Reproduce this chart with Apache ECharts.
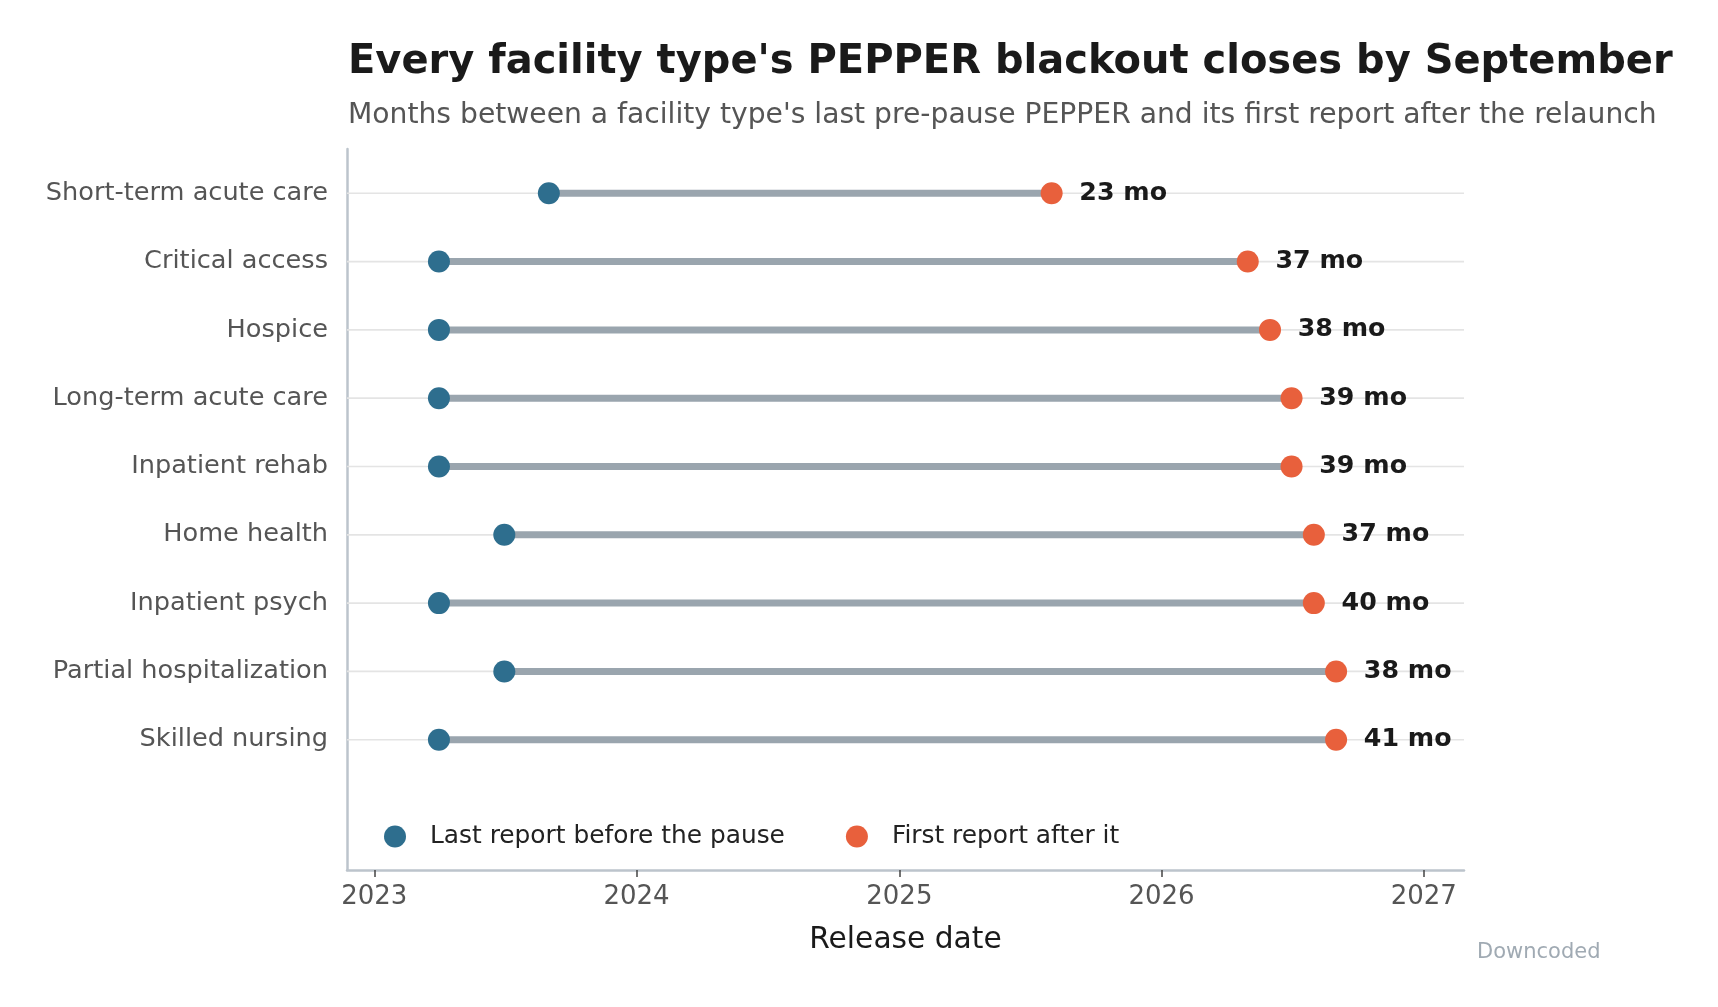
<!DOCTYPE html>
<html>
<head>
<meta charset="UTF-8">
<title>PEPPER blackout</title>
<script src="https://cdn.jsdelivr.net/npm/echarts@6/dist/echarts.min.js"></script>
<style>
body { margin: 0; padding: 0; background: #fff; }
#main { width: 1718px; height: 1007px; }
</style>
</head>
<body>
<div id="main"></div>
<script>
// facility types, top to bottom
var facilities = ['Short-term acute care', 'Critical access', 'Hospice', 'Long-term acute care',
    'Inpatient rehab', 'Home health', 'Inpatient psych', 'Partial hospitalization', 'Skilled nursing'];
// last PEPPER before the pause / first one after the relaunch (year, month)
var lastBefore = [[2023, 9], [2023, 4], [2023, 4], [2023, 4], [2023, 4], [2023, 7], [2023, 4], [2023, 7], [2023, 4]];
var firstAfter = [[2025, 8], [2026, 5], [2026, 6], [2026, 7], [2026, 7], [2026, 8], [2026, 8], [2026, 9], [2026, 9]];
var gapMonths = [23, 37, 38, 39, 39, 37, 40, 38, 41];
var yearTicks = [2023, 2024, 2025, 2026, 2027];

var BLUE = '#2e6e8e', ORANGE = '#e8603c';
var FONT = 'DejaVu Sans';
var YEAR = 365.25 * 24 * 3600 * 1000;

function ts(ym) { return Date.UTC(ym[0], ym[1] - 1, 1); }

var spans = [], startPts = [], endPts = [];
for (var i = 0; i < facilities.length; i++) {
    spans.push([ts(lastBefore[i]), ts(firstAfter[i]), i]);
    startPts.push([ts(lastBefore[i]), i]);
    endPts.push([ts(firstAfter[i]), i, gapMonths[i]]);
}
var rowIdx = facilities.map(function (d, i) { return i; });
var yearTs = yearTicks.map(function (y) { return Date.UTC(y, 0, 1); });

var myChart = echarts.init(document.getElementById('main'));
var option = {
    animation: false,
    title: [
        {
            text: "Every facility type's PEPPER blackout closes by September",
            left: 343, top: 38,
            textStyle: { fontFamily: FONT, fontSize: 40, fontWeight: 'bold', color: '#1a1a1a' }
        },
        {
            text: "Months between a facility type's last pre-pause PEPPER and its first report after the relaunch",
            left: 343, top: 97,
            textStyle: { fontFamily: FONT, fontSize: 28.2, fontWeight: 'normal', color: '#555555' }
        },
        {
            text: 'Downcoded',
            left: 1472, top: 937,
            textStyle: { fontFamily: FONT, fontSize: 21, fontWeight: 'normal', color: '#a0aab3' }
        }
    ],
    legend: {
        data: ['Last report before the pause', 'First report after it'],
        left: 384, top: 824,
        padding: 0,
        itemWidth: 22, itemHeight: 22,
        itemGap: 61,
        icon: 'circle',
        textStyle: { fontFamily: FONT, fontSize: 24.85, color: '#222222', padding: [0, 0, 0, 19] }
    },
    grid: { left: 347, top: 149, width: 1117, height: 721, containLabel: false },
    xAxis: {
        // release dates as UTC timestamps on a plain value scale
        type: 'value',
        min: Date.UTC(2023, 0, 1) - 0.104 * YEAR,
        max: Date.UTC(2027, 0, 1) + 0.1535 * YEAR,
        name: 'Release date',
        nameLocation: 'middle',
        nameGap: 55,
        nameTextStyle: { fontFamily: FONT, fontSize: 29.7, color: '#1a1a1a' },
        axisLine: { onZero: false, lineStyle: { color: '#bcc4cc', width: 2.5 } },
        axisTick: { show: true, customValues: yearTs, length: 7, lineStyle: { color: '#444', width: 1.5 } },
        axisLabel: {
            customValues: yearTs,
            margin: 14,
            fontFamily: FONT, fontSize: 26, color: '#555555',
            formatter: function (v) { return String(new Date(v).getUTCFullYear()); }
        },
        splitLine: { show: false }
    },
    yAxis: {
        type: 'value',
        inverse: true,
        min: -0.648,
        max: 9.907,
        axisLine: { show: true, onZero: false, lineStyle: { color: '#bcc4cc', width: 2.5 } },
        axisTick: { show: false },
        axisLabel: {
            customValues: rowIdx,
            margin: 19,
            fontFamily: FONT, fontSize: 25.6, color: '#555555',
            formatter: function (v) { return facilities[Math.round(v)] || ''; }
        },
        splitLine: { show: false }
    },
    series: [
        {
            type: 'custom',
            silent: true,
            encode: { x: [0, 1], y: 2 },
            data: spans,
            z: 1,
            renderItem: function (params, api) {
                var row = api.value(2);
                var p0 = api.coord([api.value(0), row]);
                var p1 = api.coord([api.value(1), row]);
                var cs = params.coordSys;
                return {
                    type: 'group',
                    children: [
                        { type: 'line', shape: { x1: cs.x, y1: p0[1], x2: cs.x + cs.width, y2: p0[1] },
                          style: { stroke: '#e4e4e4', lineWidth: 1.7 } },
                        { type: 'line', shape: { x1: p0[0], y1: p0[1], x2: p1[0], y2: p1[1] },
                          style: { stroke: '#9aa5ae', lineWidth: 7 } }
                    ]
                };
            }
        },
        {
            name: 'Last report before the pause',
            type: 'scatter',
            symbol: 'circle',
            symbolSize: 22,
            itemStyle: { color: BLUE, opacity: 1 },
            data: startPts,
            z: 3
        },
        {
            name: 'First report after it',
            type: 'scatter',
            symbol: 'circle',
            symbolSize: 22,
            itemStyle: { color: ORANGE, opacity: 1 },
            data: endPts,
            z: 3,
            label: {
                show: true,
                position: 'right',
                distance: 16.7,
                fontFamily: FONT, fontSize: 25.3, fontWeight: 'bold', color: '#1a1a1a',
                formatter: function (p) { return p.value[2] + ' mo'; }
            }
        }
    ]
};
myChart.setOption(option);
</script>
</body>
</html>
